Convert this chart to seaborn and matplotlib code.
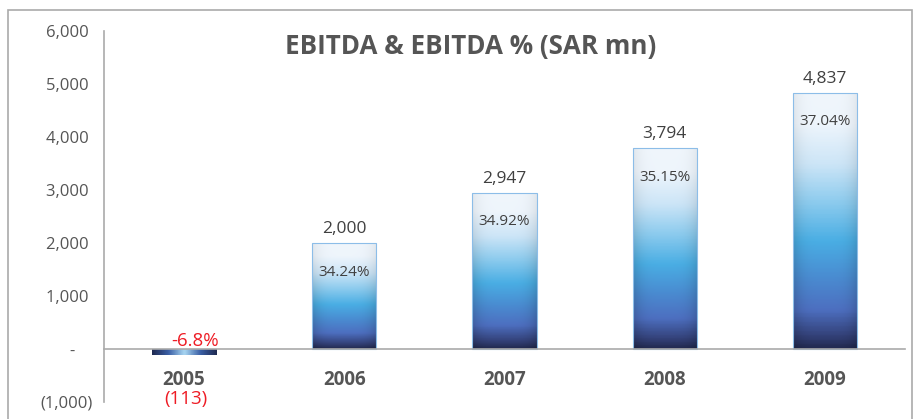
import matplotlib
matplotlib.use('Agg')
import matplotlib.pyplot as plt
import seaborn as sns
import numpy as np
import pandas as pd
from matplotlib.colors import LinearSegmentedColormap
from matplotlib.patches import Rectangle

years = ['2005', '2006', '2007', '2008', '2009']
ebitda = [-113, 2000, 2947, 3794, 4837]
value_labels = ['(113)', '2,000', '2,947', '3,794', '4,837']
margin_labels = ['-6.8%', '34.24%', '34.92%', '35.15%', '37.04%']
yticks = [-1000, 0, 1000, 2000, 3000, 4000, 5000, 6000]
ytick_labels = ['(1,000)', '-    ', '1,000 ', '2,000 ', '3,000 ', '4,000 ', '5,000 ', '6,000 ']

sns.set_style('white')
plt.rcParams['font.family'] = ['Open Sans', 'DejaVu Sans']

df = pd.DataFrame({'Year': years, 'EBITDA': ebitda})

fig = plt.figure(figsize=(9.13, 4.19), dpi=100)
ax = fig.add_axes([0.1139, 0.0406, 0.8773, 0.8854])
sns.barplot(data=df, x='Year', y='EBITDA', color='#4aa8e0', width=0.4, ax=ax)

# vertical gradient: dark navy bottom -> blue -> pale top
vcmap = LinearSegmentedColormap.from_list('bar', [
    (0.0, '#222a50'), (0.05, '#34427a'), (0.15, '#4d6fc0'), (0.27, '#4a8ad0'),
    (0.42, '#4aaee4'), (0.57, '#8ccbee'), (0.72, '#cce5f7'), (0.88, '#eef5fc'),
    (1.0, '#f0f6fc')])
ny, nx = 200, 60
t = np.linspace(0, 1, ny)[:, None]
s = np.linspace(-1, 1, nx)[None, :]
for i, p in enumerate(ax.patches):
    x0, w = p.get_x(), p.get_width()
    h = p.get_height()
    if h >= 0:
        shade = 1 - (0.2 - 0.14 * t) * np.abs(s) ** 4
        rgb = vcmap(np.repeat(t, nx, axis=1))[..., :3] * shade[..., None]
        ext = [x0, x0 + w, 0, h]
    else:
        hcmap = LinearSegmentedColormap.from_list('neg', [
            (0.0, '#1f2a52'), (0.25, '#3a5fa5'), (0.5, '#a8d6f2'),
            (0.75, '#3a5fa5'), (1.0, '#1f2a52')])
        rgb = hcmap(np.repeat((s + 1) / 2, ny, axis=0))[..., :3]
        ext = [x0, x0 + w, h, 0]
    im = ax.imshow(rgb, extent=ext, origin='lower', aspect='auto', zorder=3)
    im.set_clip_path(p)
    p.set_facecolor('none')
    p.set_edgecolor('#8cbde8' if h > 0 else 'none')
    p.set_linewidth(0.8)
    p.set_zorder(3.5)

ax.set_xlim(-0.5, 4.5)
ax.set_ylim(-1000, 6000)
ax.set_yticks(yticks, ytick_labels)
ax.set_xticks(range(len(years)), [''] * len(years))
ax.set_xticks([0.5, 1.5, 2.5, 3.5, 4.5], minor=True)
ax.tick_params(axis='x', which='major', length=0)
ax.tick_params(axis='x', which='minor', length=5, width=1, color='#aaaaaa', direction='out')
ax.tick_params(axis='y', length=5, width=1, color='#aaaaaa', direction='out', pad=3,
               labelsize=12, labelcolor='#555555')
ax.set_xlabel('')
ax.set_ylabel('')

# category labels under the zero line
for i, yr in enumerate(years):
    ax.annotate(yr, (i, 0), xytext=(0, -22), textcoords='offset points',
                ha='center', va='center', fontsize=13.5, fontweight='bold', color='#555555')

for side in ['top', 'right']:
    ax.spines[side].set_visible(False)
ax.spines['bottom'].set_position(('data', 0))
ax.spines['bottom'].set_zorder(4)
for side in ['left', 'bottom']:
    ax.spines[side].set_color('#aaaaaa')
    ax.spines[side].set_linewidth(1.2)

for i, v in enumerate(ebitda):
    if v > 0:
        ax.annotate(value_labels[i], (i, v), xytext=(0, 4), textcoords='offset points',
                    ha='center', va='bottom', fontsize=12.5, color='#404040')
        ax.annotate(margin_labels[i], (i, v), xytext=(0, -21), textcoords='offset points',
                    ha='center', va='center', fontsize=11, color='#404040', zorder=5)
    else:
        ax.annotate(margin_labels[i], (i, 0), xytext=(8, 6), textcoords='offset points',
                    ha='center', va='center', fontsize=13.5, color='#ee1c25')
        ax.annotate(value_labels[i], (i, 0), xytext=(1, -36), textcoords='offset points',
                    ha='center', va='center', fontsize=13.5, color='#ee1c25')

fig.text(0.516, 0.89, 'EBITDA & EBITDA % (SAR mn)', ha='center', va='center',
         fontsize=18.7, fontweight='bold', color='#555555')

fig.patches.append(Rectangle((8 / 913, -0.05), 903.5 / 913, 1.05 - 10 / 419,
                             transform=fig.transFigure, fill=False,
                             edgecolor='#aaaaaa', linewidth=1.2))

fig.savefig('out.png', dpi=100)
